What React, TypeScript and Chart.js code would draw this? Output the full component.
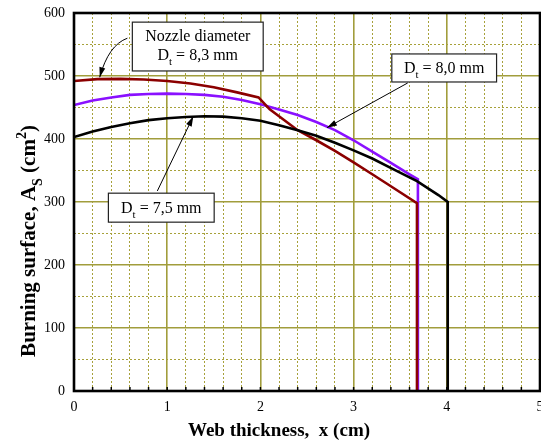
import React, { useEffect, useRef } from "react";
import { Chart, registerables } from "chart.js";

Chart.register(...registerables);

// Burning surface A_S (cm²) versus web thickness x (cm) for three nozzle diameters
const webX75 = [0, 0.2, 0.4, 0.6, 0.8, 1.0, 1.2, 1.4, 1.6, 1.8, 2.0, 2.2, 2.4, 2.6, 2.8, 3.0, 3.2, 3.44, 3.68, 3.91, 4.01, 4.01];
const area75 = [403, 412, 419, 425, 430, 433, 435, 436, 435.5, 433, 429, 422, 414, 405, 394, 382, 369, 351, 333, 311, 300, 0];

const webX83 = [0, 0.25, 0.5, 0.75, 1.0, 1.25, 1.5, 1.75, 1.98, 2.1, 2.2, 2.4, 2.6, 2.8, 3.0, 3.2, 3.4, 3.68, 3.68];
const area83 = [492, 495, 495.5, 494.5, 492, 488, 482, 474, 466, 447, 436, 414, 398, 381, 363, 344, 325, 298, 0];

const webX80 = [0, 0.2, 0.4, 0.6, 0.8, 1.0, 1.2, 1.4, 1.6, 1.8, 2.0, 2.2, 2.4, 2.6, 2.8, 3.0, 3.2, 3.4, 3.6, 3.69, 3.69];
const area80 = [454, 461, 466, 470, 471.5, 472, 471.5, 470, 467, 462, 455, 447, 438, 427, 414, 398, 380, 362, 344, 336, 0];

const xTickLabels = ["0", "1", "2", "3", "4", "5"];
const yTickLabels = ["0", "100", "200", "300", "400", "500", "600"];

const SERIF = '"Liberation Serif", "Times New Roman", serif';

const toPoints = (xs: number[], ys: number[]) => xs.map((x, i) => ({ x, y: ys[i] }));

type Part = { t: string; sub?: boolean; sup?: boolean };

function partSize(p: Part, size: number) {
  return p.sub || p.sup ? Math.round(size * 0.68) : size;
}

function drawRich(ctx: CanvasRenderingContext2D, parts: Part[], x: number, y: number, size: number, weight: string) {
  let cx = x;
  for (const p of parts) {
    ctx.font = `${weight} ${partSize(p, size)}px ${SERIF}`;
    const dy = p.sub ? size * 0.33 : p.sup ? -size * 0.42 : 0;
    ctx.fillText(p.t, cx, y + dy);
    cx += ctx.measureText(p.t).width;
  }
}

function richWidth(ctx: CanvasRenderingContext2D, parts: Part[], size: number, weight: string) {
  let w = 0;
  for (const p of parts) {
    ctx.font = `${weight} ${partSize(p, size)}px ${SERIF}`;
    w += ctx.measureText(p.t).width;
  }
  return w;
}

function arrowHead(ctx: CanvasRenderingContext2D, fx: number, fy: number, tx: number, ty: number) {
  const ang = Math.atan2(ty - fy, tx - fx);
  const len = 10;
  const half = 3;
  ctx.beginPath();
  ctx.moveTo(tx, ty);
  ctx.lineTo(tx - len * Math.cos(ang) + half * Math.sin(ang), ty - len * Math.sin(ang) - half * Math.cos(ang));
  ctx.lineTo(tx - len * Math.cos(ang) - half * Math.sin(ang), ty - len * Math.sin(ang) + half * Math.cos(ang));
  ctx.closePath();
  ctx.fill();
}

// Callout boxes, in data units: [x0, x1, yTop, yBottom]
const box83 = [0.626, 2.03, 585.5, 508];
const box80 = [3.41, 4.534, 535, 490.5];
const box75 = [0.369, 1.504, 314, 268];

const isMajor = (v: number, step: number) => Math.abs(v / step - Math.round(v / step)) < 1e-6;

const decorPlugin = {
  id: "decor",
  afterDatasetsDraw(chart: any) {
    const { ctx, chartArea: a, scales } = chart;
    const xs = scales.x;
    const ys = scales.y;
    const px = (v: number) => xs.getPixelForValue(v);
    const py = (v: number) => ys.getPixelForValue(v);

    ctx.save();
    // short inward tick marks along the bottom axis
    ctx.strokeStyle = "#000";
    ctx.lineWidth = 1.5;
    for (const t of xs.ticks) {
      const x = px(t.value);
      ctx.beginPath();
      ctx.moveTo(x, a.bottom);
      ctx.lineTo(x, a.bottom - 4);
      ctx.stroke();
    }
    // frame
    ctx.lineWidth = 2.6;
    ctx.strokeRect(a.left, a.top, a.right - a.left, a.bottom - a.top);

    // callouts
    const drawBox = (b: number[], lines: Part[][], baselines: number[], size: number) => {
      const x0 = px(b[0]), x1 = px(b[1]), y0 = py(b[2]), y1 = py(b[3]);
      ctx.fillStyle = "#fff";
      ctx.fillRect(x0, y0, x1 - x0, y1 - y0);
      ctx.strokeStyle = "#222";
      ctx.lineWidth = 1.2;
      ctx.strokeRect(x0, y0, x1 - x0, y1 - y0);
      ctx.fillStyle = "#000";
      ctx.textBaseline = "alphabetic";
      ctx.textAlign = "left";
      lines.forEach((ln, i) => {
        const w = richWidth(ctx, ln, size, "normal");
        drawRich(ctx, ln, (x0 + x1) / 2 - w / 2, y0 + baselines[i], size, "normal");
      });
    };

    drawBox(box83, [[{ t: "Nozzle diameter" }], [{ t: "D" }, { t: "t", sub: true }, { t: " = 8,3 mm" }]], [19, 38], 16);
    drawBox(box80, [[{ t: "D" }, { t: "t", sub: true }, { t: " = 8,0 mm" }]], [19], 16);
    drawBox(box75, [[{ t: "D" }, { t: "t", sub: true }, { t: " = 7,5 mm" }]], [20], 16);

    ctx.strokeStyle = "#000";
    ctx.fillStyle = "#000";
    ctx.lineWidth = 1;
    // curved pointer to the 8,3 mm curve
    {
      const sx = px(0.573), sy = py(560);
      const cx = px(0.369), cy = py(549);
      const tx = px(0.276), ty = py(498);
      ctx.beginPath();
      ctx.moveTo(sx, sy);
      ctx.quadraticCurveTo(cx, cy, tx, ty);
      ctx.stroke();
      arrowHead(ctx, cx, cy, tx, ty);
    }
    // pointer to the 8,0 mm curve
    {
      const sx = px(3.581), sy = py(489);
      const tx = px(2.714), ty = py(418);
      ctx.beginPath();
      ctx.moveTo(sx, sy);
      ctx.lineTo(tx, ty);
      ctx.stroke();
      arrowHead(ctx, sx, sy, tx, ty);
    }
    // pointer to the 7,5 mm curve
    {
      const sx = px(0.894), sy = py(317.5);
      const tx = px(1.28), ty = py(436);
      ctx.beginPath();
      ctx.moveTo(sx, sy);
      ctx.lineTo(tx, ty);
      ctx.stroke();
      arrowHead(ctx, sx, sy, tx, ty);
    }
    ctx.restore();
  },
  afterDraw(chart: any) {
    const { ctx } = chart;
    ctx.save();
    ctx.fillStyle = "#000";
    ctx.textBaseline = "alphabetic";
    ctx.textAlign = "left";
    // x-axis title
    const xt: Part[] = [{ t: "Web thickness,  x (cm)" }];
    const xw = richWidth(ctx, xt, 19, "bold");
    drawRich(ctx, xt, 279 - xw / 2, 436, 19, "bold");
    // y-axis title, rotated
    const yt: Part[] = [{ t: "Burning surface, A" }, { t: "S", sub: true }, { t: " (cm" }, { t: "2", sup: true }, { t: ")" }];
    const yw = richWidth(ctx, yt, 21, "bold");
    ctx.translate(35, 241);
    ctx.rotate(-Math.PI / 2);
    drawRich(ctx, yt, -yw / 2, 0, 21, "bold");
    ctx.restore();
  },
};

export default function App() {
  const ref = useRef<HTMLCanvasElement | null>(null);

  useEffect(() => {
    document.body.style.margin = "0";
    const canvas = ref.current;
    if (!canvas) return;

    const gridColor = (step: number) => (c: any) =>
      c.tick && isMajor(c.tick.value, step) ? "#a19d3c" : "#a7a13a";
    const gridWidth = (step: number) => (c: any) => (c.tick && isMajor(c.tick.value, step) ? 1.6 : 1);
    const gridDash = (step: number) => (c: any) => (c.tick && isMajor(c.tick.value, step) ? [] : [2, 2]);

    const chart = new Chart(canvas, {
      type: "line",
      data: {
        datasets: [
          {
            label: "Dt = 7,5 mm",
            data: toPoints(webX75, area75),
            borderColor: "#000000",
            borderWidth: 2.6,
            pointRadius: 0,
            tension: 0,
            fill: false,
          },
          {
            label: "Dt = 8,3 mm",
            data: toPoints(webX83, area83),
            borderColor: "#8b0000",
            borderWidth: 2.6,
            pointRadius: 0,
            tension: 0,
            fill: false,
          },
          {
            label: "Dt = 8,0 mm",
            data: toPoints(webX80, area80),
            borderColor: "#8a10ff",
            borderWidth: 2.6,
            pointRadius: 0,
            tension: 0,
            fill: false,
          },
        ],
      },
      options: {
        animation: false,
        responsive: false,
        devicePixelRatio: 1,
        layout: { padding: { top: 13, right: 1, left: 0, bottom: 0 } },
        plugins: { legend: { display: false }, tooltip: { enabled: false } },
        scales: {
          x: {
            type: "linear",
            min: 0,
            max: 5,
            afterFit: (s: any) => {
              s.height = 51;
              s.paddingLeft = 0;
              s.paddingRight = 0;
            },
            ticks: {
              stepSize: 0.2,
              autoSkip: false,
              maxRotation: 0,
              padding: 8,
              color: "#000",
              font: { family: SERIF, size: 14 },
              callback: (v: any) => (isMajor(Number(v), 1) ? xTickLabels[Math.round(Number(v))] : ""),
            },
            grid: {
              drawTicks: false,
              color: gridColor(1),
              lineWidth: gridWidth(1),
            },
            border: { display: false, dash: gridDash(1) },
          },
          y: {
            type: "linear",
            min: 0,
            max: 600,
            afterFit: (s: any) => {
              s.width = 74;
              s.paddingTop = 0;
              s.paddingBottom = 0;
            },
            ticks: {
              stepSize: 50,
              autoSkip: false,
              padding: 9,
              color: "#000",
              font: { family: SERIF, size: 14 },
              callback: (v: any) => (isMajor(Number(v), 100) ? yTickLabels[Math.round(Number(v) / 100)] : ""),
            },
            grid: {
              drawTicks: false,
              color: gridColor(100),
              lineWidth: gridWidth(100),
            },
            border: { display: false, dash: gridDash(100) },
          },
        },
      },
      plugins: [decorPlugin],
    } as any);

    return () => chart.destroy();
  }, []);

  return (
    <div style={{ position: "absolute", left: 0, top: 0, width: 541, height: 442, background: "#fff" }}>
      <canvas ref={ref} width={541} height={442} style={{ width: 541, height: 442, display: "block" }} />
    </div>
  );
}
